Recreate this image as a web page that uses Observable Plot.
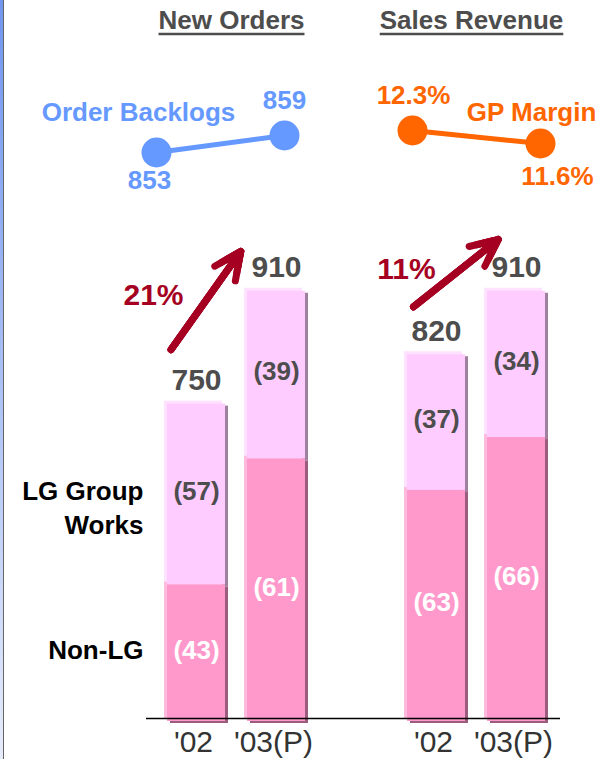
<!DOCTYPE html>
<html><head><meta charset="utf-8">
<script src="https://cdn.jsdelivr.net/npm/d3@7"></script>
<script src="https://cdn.jsdelivr.net/npm/@observablehq/plot@0.6"></script>
<style>
html,body{margin:0;padding:0;background:#fff;}
#wrap{position:relative;width:603px;height:759px;overflow:hidden;font-family:"Liberation Sans",Arial,sans-serif;}
#wrap svg{position:absolute;left:0;top:0;}
#edge{position:absolute;left:0;top:0;width:3px;height:759px;background:linear-gradient(#7096f0,#e6ecfb);border-right:1.5px solid #666;z-index:5;}
</style></head>
<body><div id="wrap"><div id="edge"></div></div>
<script>
// ---- data ----
const groups = ["New Orders", "Sales Revenue"];
const years = ["'02", "'03(P)"];
const totals = [750, 910, 820, 910];          // New Orders '02, '03(P), Sales Revenue '02, '03(P)
const nonLGShare = [43, 61, 63, 66];
const lgShare = [57, 39, 37, 34];
const growth = ["21%", "11%"];
const segmentNames = ["LG Group\nWorks", "Non-LG"];
const backlogLabel = "Order Backlogs";
const backlogs = [853, 859];
const gpLabel = "GP Margin";
const gpMargin = [12.3, 11.6];

// ---- derived table ----
const yFloor = 300;
const keys = [];
const rows = [];
groups.forEach((g, gi) => years.forEach((yr, yi) => {
  const i = gi * 2 + yi;
  const key = g + "|" + yr;
  keys.push(key);
  rows.push({key, year: yr, total: totals[i], nonLG: nonLGShare[i], lg: lgShare[i],
    split: yFloor + (totals[i] - yFloor) * nonLGShare[i] / 100});
}));
const yearOf = Object.fromEntries(rows.map(d => [d.key, d.year]));

const FONT = '"Liberation Sans", Arial, sans-serif';
const GRAY = "#4d4d4d";
const RED = "#A50021";
const BLUE = "#6699FF";
const ORANGE = "#FF6600";

const lgMid = d => (d.split + d.total) / 2;
const nonMid = d => (yFloor + d.split) / 2;

function arrowMarks(row0, row1, dx, dy, insetStart, insetEnd) {
  return [6.4, 4.8, 3.2, 1.6].map(hl => Plot.arrow([{a: row0, b: row1}], {
    x1: d => d.a.key, y1: d => d.a.total, x2: d => d.b.key, y2: d => d.b.total,
    dx, dy, insetStart, insetEnd, stroke: RED, strokeWidth: 7, headLength: hl, headAngle: 50
  }));
}

const main = Plot.plot({
  width: 603, height: 759,
  marginTop: 0, marginBottom: 41, marginLeft: 146, marginRight: 43,
  x: {type: "band", domain: [keys[0], keys[1], "gap", keys[2], keys[3]], paddingInner: 0.27, paddingOuter: 0.2, axis: null},
  y: {domain: [yFloor, 1318], axis: null},
  style: {fontFamily: FONT, background: "transparent", overflow: "visible"},
  marks: [
    // shadows
    Plot.barY(rows, {x: "key", y1: "split", y2: "total", fill: "#A0809F", dx: 6, dy: 5}),
    Plot.barY(rows, {x: "key", y1: yFloor, y2: "split", fill: "#9C5C7E", dx: 6, dy: 5}),
    // highlights
    Plot.barY(rows, {x: "key", y1: "split", y2: "total", fill: "#FFE2FF"}),
    Plot.barY(rows, {x: "key", y1: yFloor, y2: "split", fill: "#FFBBDD"}),
    // faces
    Plot.barY(rows, {x: "key", y1: "split", y2: "total", fill: "#FFCCFF", dx: 3, dy: 3}),
    Plot.barY(rows, {x: "key", y1: yFloor, y2: "split", fill: "#FF99CC", dx: 3, dy: 3}),
    Plot.ruleY([yFloor], {stroke: "#000", strokeWidth: 1.5}),
    Plot.axisX(keys, {tickSize: 0, tickPadding: 12, fontSize: 30, color: "#333", tickFormat: k => yearOf[k], label: null}),
    // totals
    Plot.text(rows, {x: "key", y: "total", text: d => String(d.total), dx: 3, dy: -11, lineAnchor: "bottom",
      fontSize: 30, fontWeight: "bold", fill: GRAY}),
    // shares
    Plot.text(rows, {x: "key", y: lgMid, text: d => `(${d.lg})`, dx: 3, fontSize: 26, fontWeight: "bold", fill: GRAY}),
    Plot.text(rows, {x: "key", y: nonMid, text: d => `(${d.nonLG})`, dx: 3, fontSize: 26, fontWeight: "bold", fill: "#fff"}),
    // segment names
    Plot.text([rows[0]], {x: "key", y: lgMid, text: () => segmentNames[0], textAnchor: "end", dx: -50, dy: 15,
      lineHeight: 1.3, fontSize: 26, fontWeight: "bold", fill: "#000"}),
    Plot.text([rows[0]], {x: "key", y: nonMid, text: () => segmentNames[1], textAnchor: "end", dx: -50,
      fontSize: 26, fontWeight: "bold", fill: "#000"}),
    // growth arrows
    ...arrowMarks(rows[0], rows[1], -27, -45, 8, 10),
    ...arrowMarks(rows[2], rows[3], -20, -45, 0, -6),
    Plot.text([rows[0]], {x: "key", y: "total", text: () => growth[0], dx: -40, dy: -106, fontSize: 30, fontWeight: "bold", fill: RED}),
    Plot.text([rows[2]], {x: "key", y: "total", text: () => growth[1], dx: -27, dy: -82, fontSize: 30, fontWeight: "bold", fill: RED}),
    // group titles
    Plot.text(groups, {x: (g, i) => keys[i * 2], frameAnchor: "top", text: d => d, lineAnchor: "bottom", dy: 28, dx: 38,
      fontSize: 26, fontWeight: "bold", fill: GRAY})
  ]
});

const bl = backlogs.map((v, i) => ({key: keys[i], v}));
const gp = gpMargin.map((v, i) => ({key: keys[2 + i], v}));
const topBase = {
  width: 603, height: 220, marginLeft: 156, marginRight: 63,
  x: {type: "point", domain: keys, padding: 0, axis: null},
  style: {fontFamily: FONT, background: "transparent", overflow: "visible"}
};
const txt = {x: "key", y: "v", fontSize: 26, fontWeight: "bold"};

const blPlot = Plot.plot({
  ...topBase, marginTop: 135, marginBottom: 68,
  y: {domain: [853, 859], axis: null},
  marks: [
    Plot.line(bl, {x: "key", y: "v", stroke: BLUE, strokeWidth: 5}),
    Plot.dot(bl, {x: "key", y: "v", r: 15, fill: BLUE}),
    Plot.text([bl[0]], {...txt, text: d => String(d.v), dx: -7, dy: 28, fill: BLUE}),
    Plot.text([bl[1]], {...txt, text: d => String(d.v), dx: 0, dy: -35, fill: BLUE}),
    Plot.text([bl[0]], {...txt, text: () => backlogLabel, dx: -18, dy: -40, fill: BLUE})
  ]
});

const gpPlot = Plot.plot({
  ...topBase, marginTop: 130, marginBottom: 77,
  y: {domain: [11.6, 12.3], axis: null},
  marks: [
    Plot.line(gp, {x: "key", y: "v", stroke: ORANGE, strokeWidth: 5}),
    Plot.dot(gp, {x: "key", y: "v", r: 15, fill: ORANGE}),
    Plot.text([gp[0]], {...txt, text: d => d.v.toFixed(1) + "%", dx: 1, dy: -35, fill: ORANGE}),
    Plot.text([gp[1]], {...txt, text: d => d.v.toFixed(1) + "%", dx: 17, dy: 33, fill: ORANGE}),
    Plot.text([gp[1]], {...txt, text: () => gpLabel, dx: -9, dy: -31, fill: ORANGE})
  ]
});

const wrap = document.getElementById("wrap");
wrap.appendChild(main);
wrap.appendChild(blPlot);
wrap.appendChild(gpPlot);

// underline the group titles (text styling)
main.querySelectorAll("text").forEach(t => {
  if (!groups.includes(t.textContent)) return;
  const b = t.getBBox();
  const line = document.createElementNS("http://www.w3.org/2000/svg", "line");
  const m = t.getCTM ? null : null;
  const tr = t.getAttribute("transform");
  line.setAttribute("x1", b.x);
  line.setAttribute("x2", b.x + b.width);
  line.setAttribute("y1", b.y + b.height - 0.5);
  line.setAttribute("y2", b.y + b.height - 0.5);
  if (tr) line.setAttribute("transform", tr);
  line.setAttribute("stroke", GRAY);
  line.setAttribute("stroke-width", 2.4);
  t.parentNode.appendChild(line);
});
</script>
</body></html>
